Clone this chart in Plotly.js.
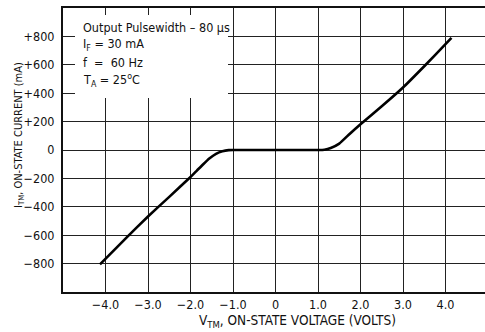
<!DOCTYPE html>
<html><head><meta charset="utf-8">
<script src="https://cdn.plot.ly/plotly-3.0.1.min.js"></script>
<style>html,body{margin:0;padding:0;background:#fff}#c{width:485px;height:332px}</style>
</head><body><div id="c"></div>
<script>
const voltage = [-4.13,-3.5,-3.0,-2.5,-2.0,-1.85,-1.7,-1.55,-1.4,-1.25,-1.1,-1.0,0,1.0,1.15,1.3,1.5,1.75,2.0,2.5,3.0,3.5,4.0,4.14];
const current = [-805,-615,-468,-330,-190,-145,-100,-58,-27,-9,-1,0,0,0,2,14,45,115,182,308,440,590,745,790];
const xTickVals = [-4,-3,-2,-1,0,1,2,3,4];
const xTickText = ['\u22124.0','\u22123.0','\u22122.0','\u22121.0','0','1.0','2.0','3.0','4.0'];
const yTickVals = [-800,-600,-400,-200,0,200,400,600,800];
const yTickText = ['\u2212800','\u2212600','\u2212400','\u2212200','0','+200','+400','+600','+800'];
const boxLines = ['Output Pulsewidth \u2013 80 \u03bcs','I<sub>F</sub> = 30 mA','f  =  60 Hz','T<sub>A</sub> = 25<sup>o</sup>C'];

const FONT = '"Liberation Sans Narrow","DejaVu Sans Condensed",Arial,sans-serif';
const W = 485, H = 332, L = 63, R = 0, T = 8, B = 40;
const pw = W - L - R, ph = H - T - B;
const px = x => (x - L) / pw, py = y => (H - B - y) / ph;

const annotations = boxLines.map((t, i) => ({
  xref: 'paper', yref: 'paper', x: px(81), y: py(27 + i * 17.6),
  xanchor: 'left', yanchor: 'middle', text: t, showarrow: false,
  font: {family: FONT, size: 12.5, color: '#111'}
}));
annotations.push({xref:'paper', yref:'paper', x: px(297), y: py(321), xanchor:'center', yanchor:'middle',
  text:'V<sub>TM</sub>, ON-STATE VOLTAGE (VOLTS)', showarrow:false, font:{family:FONT,size:13.5,color:'#111'}});
annotations.push({xref:'paper', yref:'paper', x: px(19), y: py(135), xanchor:'center', yanchor:'middle', textangle:-90,
  text:'I<sub>TM</sub>, ON-STATE CURRENT (mA)', showarrow:false, font:{family:FONT,size:11,color:'#111'}});

Plotly.newPlot('c', [{
  x: voltage, y: current, type: 'scatter', mode: 'lines',
  line: {color: '#000', width: 2.6, shape: 'spline', smoothing: 0.4},
  hoverinfo: 'skip'
}], {
  width: W, height: H,
  margin: {l: L, r: R, t: T, b: B, pad: 0},
  paper_bgcolor: '#fff', plot_bgcolor: '#fff',
  showlegend: false,
  font: {family: FONT, size: 12, color: '#111'},
  xaxis: {range: [-5, 5 - 3 / 42.5], tickvals: xTickVals, ticktext: xTickText,
    showgrid: true, gridcolor: '#222', gridwidth: 1, zeroline: false,
    showline: true, linecolor: '#111', linewidth: 2, mirror: true, ticks: '',
    tickfont: {family: FONT, size: 12.5, color: '#111'}, fixedrange: true},
  yaxis: {range: [-1000, 1000], tickvals: yTickVals, ticktext: yTickText,
    showgrid: true, gridcolor: '#222', gridwidth: 1, zeroline: false,
    showline: true, linecolor: '#111', linewidth: 2, mirror: false, ticks: '',
    ticklabelstandoff: 4,
    tickfont: {family: FONT, size: 12.5, color: '#111'}, fixedrange: true},
  shapes: [{type: 'rect', xref: 'paper', yref: 'paper', layer: 'above',
    x0: px(75), x1: px(228), y0: py(98), y1: py(15),
    fillcolor: '#fff', line: {width: 0}}],
  annotations: annotations
}, {staticPlot: true});
</script></body></html>
